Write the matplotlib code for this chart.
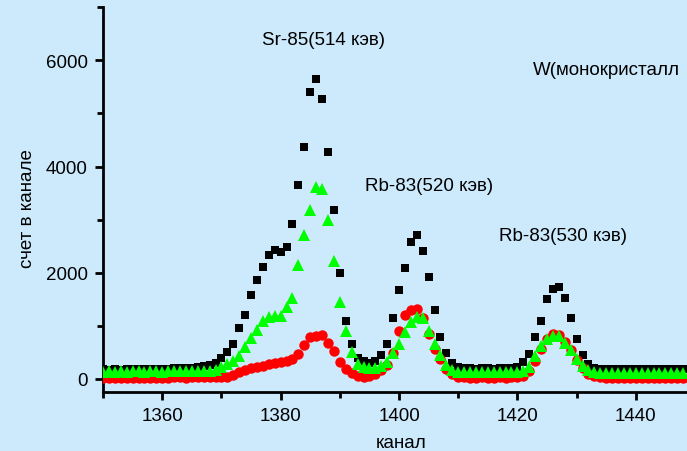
import matplotlib as mpl
mpl.use('Agg')
import matplotlib.pyplot as plt
from matplotlib.ticker import MultipleLocator
import numpy as np

# channel numbers, one point per channel
channels = np.arange(1350, 1449)

# black squares
counts_black = [
    180, 175, 180, 175, 185, 180, 180, 185, 180, 185,        # 1350-1359
    190, 195, 215, 210, 205, 210, 230, 250, 270, 310,        # 1360-1369
    400, 500, 650, 965, 1200, 1585, 1870, 2110, 2325, 2430,  # 1370-1379
    2400, 2490, 2920, 3655, 4365, 5410, 5640, 5280, 4275, 3185,  # 1380-1389
    1995, 1090, 650, 400, 340, 310, 340, 450, 665, 1150,     # 1390-1399
    1670, 2090, 2585, 2710, 2415, 1920, 1290, 800, 480, 295, # 1400-1409
    230, 205, 200, 195, 200, 200, 195, 200, 205, 200,        # 1410-1419
    230, 315, 470, 800, 1095, 1505, 1695, 1735, 1520, 1150,  # 1420-1429
    755, 460, 285, 210, 190, 185, 180, 185, 180, 180,        # 1430-1439
    185, 180, 180, 185, 180, 180, 185, 180, 180,             # 1440-1448
]

# red circles
counts_red = [
    25, 20, 20, 25, 20, 20, 25, 25, 20, 25,                  # 1350-1359
    25, 25, 30, 30, 25, 30, 35, 35, 30, 30,                  # 1360-1369
    35, 45, 80, 130, 170, 210, 230, 250, 275, 295,           # 1370-1379
    315, 340, 380, 475, 645, 800, 815, 830, 675, 525,        # 1380-1389
    320, 190, 110, 50, 30, 50, 90, 170, 270, 480,            # 1390-1399
    900, 1200, 1300, 1310, 1150, 850, 560, 380, 190, 90,     # 1400-1409
    45, 30, 25, 25, 30, 25, 25, 30, 25, 30,                  # 1410-1419
    35, 60, 150, 330, 560, 750, 840, 830, 700, 540,          # 1420-1429
    350, 200, 100, 50, 30, 25, 25, 20, 25, 20,               # 1430-1439
    20, 25, 20, 20, 25, 20, 20, 20, 20,                      # 1440-1448
]

# green triangles
counts_green = [
    140, 145, 140, 145, 140, 145, 145, 140, 145, 145,        # 1350-1359
    140, 145, 150, 145, 145, 150, 150, 155, 155, 170,        # 1360-1369
    220, 280, 345, 440, 595, 775, 925, 1095, 1160, 1180,     # 1370-1379
    1190, 1355, 1530, 2145, 2715, 3180, 3615, 3580, 2990, 2230,  # 1380-1389
    1450, 910, 515, 290, 220, 200, 210, 250, 315, 485,       # 1390-1399
    660, 890, 1065, 1160, 1140, 895, 660, 450, 270, 160,     # 1400-1409
    135, 130, 130, 125, 130, 130, 125, 130, 130, 135,        # 1410-1419
    140, 150, 220, 440, 625, 750, 805, 815, 680, 545,        # 1420-1429
    375, 250, 170, 130, 115, 110, 110, 105, 110, 110,        # 1430-1439
    105, 110, 110, 105, 110, 110, 105, 110, 110,             # 1440-1448
]

labels = [
    ('Sr-85(514 кэв)', 1376.9, 6395),
    ('W(монокристалл', 1422.7, 5830),
    ('Rb-83(520 кэв)', 1394.3, 3640),
    ('Rb-83(530 кэв)', 1416.9, 2710),
]

bg = '#cceafc'
fs = 13.5
plt.rcParams['font.family'] = ['Liberation Sans', 'DejaVu Sans']

fig = plt.figure(figsize=(6.87, 4.52), dpi=100, facecolor=bg)
ax = fig.add_axes([0.15, 0.1305, 0.85, 0.8515], facecolor=bg)

ax.plot(channels, counts_black, 's', color='black', ms=6, mew=0, zorder=2)
ax.plot(channels, counts_red, 'o', color='#ff0000', ms=7.5, mew=0, zorder=3)
ax.plot(channels, counts_green, '^', color='#00ff00', ms=8.5, mew=0, zorder=4)

for txt, x, y in labels:
    ax.text(x, y, txt, fontsize=fs, color='black', va='center', ha='left')

ax.set_xlim(1350, 1448.65)
ax.set_ylim(-245, 7000)
ax.xaxis.set_major_locator(MultipleLocator(20))
ax.xaxis.set_minor_locator(MultipleLocator(10))
ax.yaxis.set_major_locator(MultipleLocator(2000))
ax.yaxis.set_minor_locator(MultipleLocator(1000))

for s in ['top', 'right']:
    ax.spines[s].set_visible(False)
for s in ['left', 'bottom']:
    ax.spines[s].set_linewidth(2)
ax.tick_params(which='major', direction='out', length=6, width=2, labelsize=fs, pad=5)
ax.tick_params(which='minor', direction='out', length=4, width=2)

ax.set_xlabel('канал', fontsize=fs, va='baseline')
ax.xaxis.set_label_coords(0.511, -0.142)
ax.set_ylabel('счет в канале', fontsize=fs, va='baseline')
ax.yaxis.set_label_coords(-0.122, 0.479)

fig.savefig('out.png', dpi=100, facecolor=bg)
